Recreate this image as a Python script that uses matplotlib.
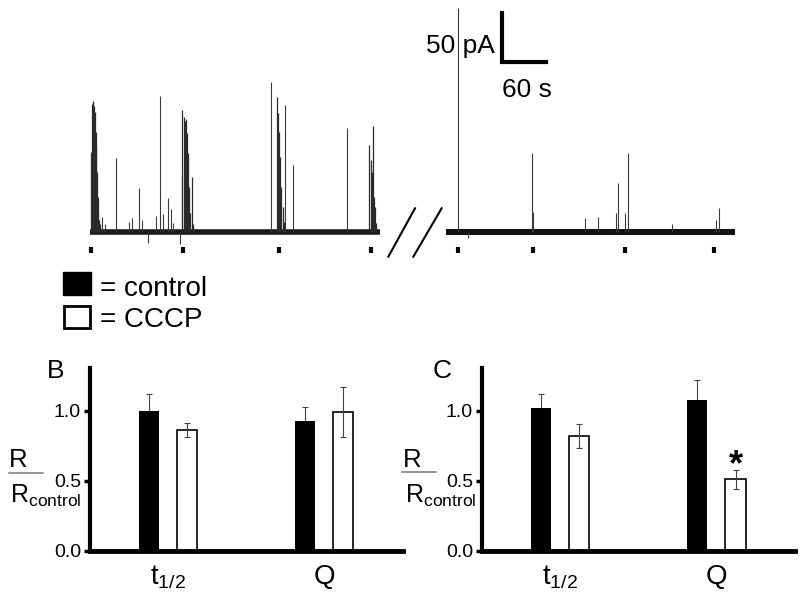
import numpy as np
import matplotlib
matplotlib.use('Agg')
import matplotlib.pyplot as plt
from matplotlib.patches import Rectangle
from matplotlib.lines import Line2D

plt.rcParams['font.family'] = ['Liberation Sans', 'DejaVu Sans']
plt.rcParams['mathtext.fontset'] = 'custom'
plt.rcParams['mathtext.rm'] = 'Liberation Sans'

# ---- amperometric traces (time in s, current in pA) ----
left_len = 395.6
left_spike_t = [16, 20, 35.1, 53.2, 56.9, 66.8, 70.5, 78.7, 90.0, 95.5, 99.6, 106.0,
                110.1, 113.2, 122.8, 125.1, 246.9, 265.9, 276.4, 350.1]
left_spike_a = [15, 8, 74, 10, 14, 44, 12, -11, 16, 136, 18, 34,
                23, 9, -12, 57, 150, 127, 67, 104]
left_burst_t = [1.5, 2.5, 3.5, 4.5, 5.5, 6.5, 7.5, 8.5, 9.5, 10.5, 11.5, 12.5, 14,
                126, 127.5, 129, 130.5, 132, 133.5, 135, 136.5, 138.5, 140,
                255, 256.5, 258, 259.5, 261, 262.5, 264,
                381, 382.5, 384, 385.5, 387, 388.5, 390]
left_burst_a = [80, 128, 130, 131, 126, 120, 100, 85, 60, 35, 20, 12, 8,
                122, 115, 111, 113, 99, 79, 45, 19, 55, 8,
                135, 119, 100, 75, 45, 25, 10,
                87, 72, 60, 106, 35, 25, 9]
left_marks = [1.4, 127.2, 257.7, 383.2]

right_offset = 485.5
right_len = 394.1
right_spike_t = [16.0, 30.4, 117.1, 118.5, 189.8, 207.9, 231.7, 234.5, 244.5, 248.2,
                 308.2, 368.2, 371.7]
right_spike_a = [224, -6, 79, 20, 14, 15, 19, 49, 19, 79, 8, 12, 24]
right_marks = [16, 118, 243.5, 366]

# ---- bar data (R / R_control) ----
groups = [r'$\mathregular{t_{1/2}}$', 'Q']
b_control = [1.00, 0.93]
b_control_err = [0.12, 0.10]
b_cccp = [0.86, 0.99]
b_cccp_err = [0.05, 0.18]
c_control = [1.02, 1.08]
c_control_err = [0.10, 0.14]
c_cccp = [0.82, 0.51]
c_cccp_err = [0.087, 0.07]

W, H = 800, 602
S = 60 / 44  # seconds per pixel in trace


def fx(px):
    return px / W


def fy(py):
    return 1 - py / H


fig = plt.figure(figsize=(8, 6.02), dpi=100)

# ---- traces ----
ax = fig.add_axes([0, fy(260), 1, 260 / H])
ax.set_xlim(-90 * S, 710 * S)
ax.set_ylim(-28, 232)
ax.axis('off')

ax.hlines(0, 0, left_len, color='#1a1a1a', lw=4)
ax.vlines(left_spike_t, 0, left_spike_a, color='#3a3a3a', lw=0.8)
ax.vlines(left_burst_t, 0, left_burst_a, color='#2a2a2a', lw=0.9)
ax.vlines(left_marks, -21, -15, color='k', lw=3)

rt = np.array(right_spike_t) + right_offset
ax.hlines(0, right_offset, right_offset + right_len, color='#111111', lw=4.3)
ax.vlines(rt, 0, right_spike_a, color='#3a3a3a', lw=0.8)
ax.vlines(np.array(right_marks) + right_offset, -21, -15, color='k', lw=3)

# break marks
ax.plot([406.8, 443.2], [-24.7, 23.7], color='k', lw=1.5)
ax.plot([440.9, 479.5], [-24.7, 23.7], color='k', lw=1.5)

# scale bar
ax.plot([561.4, 561.4, 621.4], [219, 170, 170], color='k', lw=3,
        solid_joinstyle='miter')
ax.text((495 - 90) * S, 232 - 53.3, '50 pA', fontsize=19, ha='right', va='baseline')
ax.text((526.7 - 90) * S, 232 - 96.7, '60 s', fontsize=19, ha='center', va='baseline')

# ---- legend ----
fig.add_artist(Rectangle((fx(62.7), fy(295)), 28.3 / W, 23.3 / H,
                         transform=fig.transFigure, facecolor='k', edgecolor='k'))
fig.add_artist(Rectangle((fx(63.5), fy(327.5)), 26.7 / W, 21.7 / H,
                         transform=fig.transFigure, facecolor='white',
                         edgecolor='k', lw=2))
fig.text(fx(100), fy(295.5), '= control', fontsize=20, va='baseline')
fig.text(fx(100), fy(327), '= CCCP', fontsize=20, va='baseline')


# ---- bar panels ----
def bar_panel(left_px, right_px, control, control_err, cccp, cccp_err):
    a = fig.add_axes([fx(left_px), fy(550.7), (right_px - left_px) / W, (550.7 - 368) / H])
    x = np.arange(len(groups))
    off, w = 0.124, 0.129
    a.bar(x - off, control, w, color='k', zorder=2)
    a.errorbar(x - off, control, yerr=control_err, fmt='none', ecolor='#444444',
               elinewidth=0.8, capsize=2, capthick=0.8, zorder=1.5)
    a.bar(x + off, cccp, w, color='white', edgecolor='k', lw=1.2, zorder=2)
    a.errorbar(x + off, cccp, yerr=cccp_err, fmt='none', ecolor='#444444',
               elinewidth=0.8, capsize=2, capthick=0.8, zorder=3)
    a.set_xlim(-0.5, 1.505)
    a.set_ylim(0, 1.305)
    for s in ['top', 'right']:
        a.spines[s].set_visible(False)
    a.spines['left'].set_linewidth(3)
    a.spines['bottom'].set_linewidth(3.5)
    a.set_yticks([0, 0.5, 1.0])
    a.set_yticklabels(['0.0', '0.5', '1.0'], fontsize=14)
    a.tick_params(axis='y', length=4, width=2.5, pad=2.4)
    a.set_xticks(x)
    a.set_xticklabels(groups, fontsize=20)
    a.tick_params(axis='x', length=0, pad=24)
    for lbl in a.get_xticklabels():
        lbl.set_va('baseline')
    a.patch.set_alpha(0)
    return a


axB = bar_panel(90, 402.7, b_control, b_control_err, b_cccp, b_cccp_err)
axC = bar_panel(482, 795, c_control, c_control_err, c_cccp, c_cccp_err)

fig.text(fx(47), fy(378), 'B', fontsize=19, va='baseline')
fig.text(fx(433), fy(378), 'C', fontsize=19, va='baseline')

# y labels  R / R_control
for rx, lx0, lx1, ly, bx in [(18.3, 9.3, 43.3, 472.7, 10), (412, 401.7, 436, 471.7, 405)]:
    fig.text(fx(rx), fy(467), 'R', fontsize=18.5, ha='center', va='baseline')
    fig.add_artist(Line2D([fx(lx0), fx(lx1)], [fy(ly), fy(ly)],
                          transform=fig.transFigure, color='#777777', lw=1.1))
    fig.text(fx(bx), fy(502.5), r'$\mathregular{R_{control}}$', fontsize=18,
             ha='left', va='baseline')

# significance
axC.text(1.124, 0.54, '*', fontsize=26, fontweight='bold', ha='center', va='baseline')

fig.savefig('out.png', dpi=100)
